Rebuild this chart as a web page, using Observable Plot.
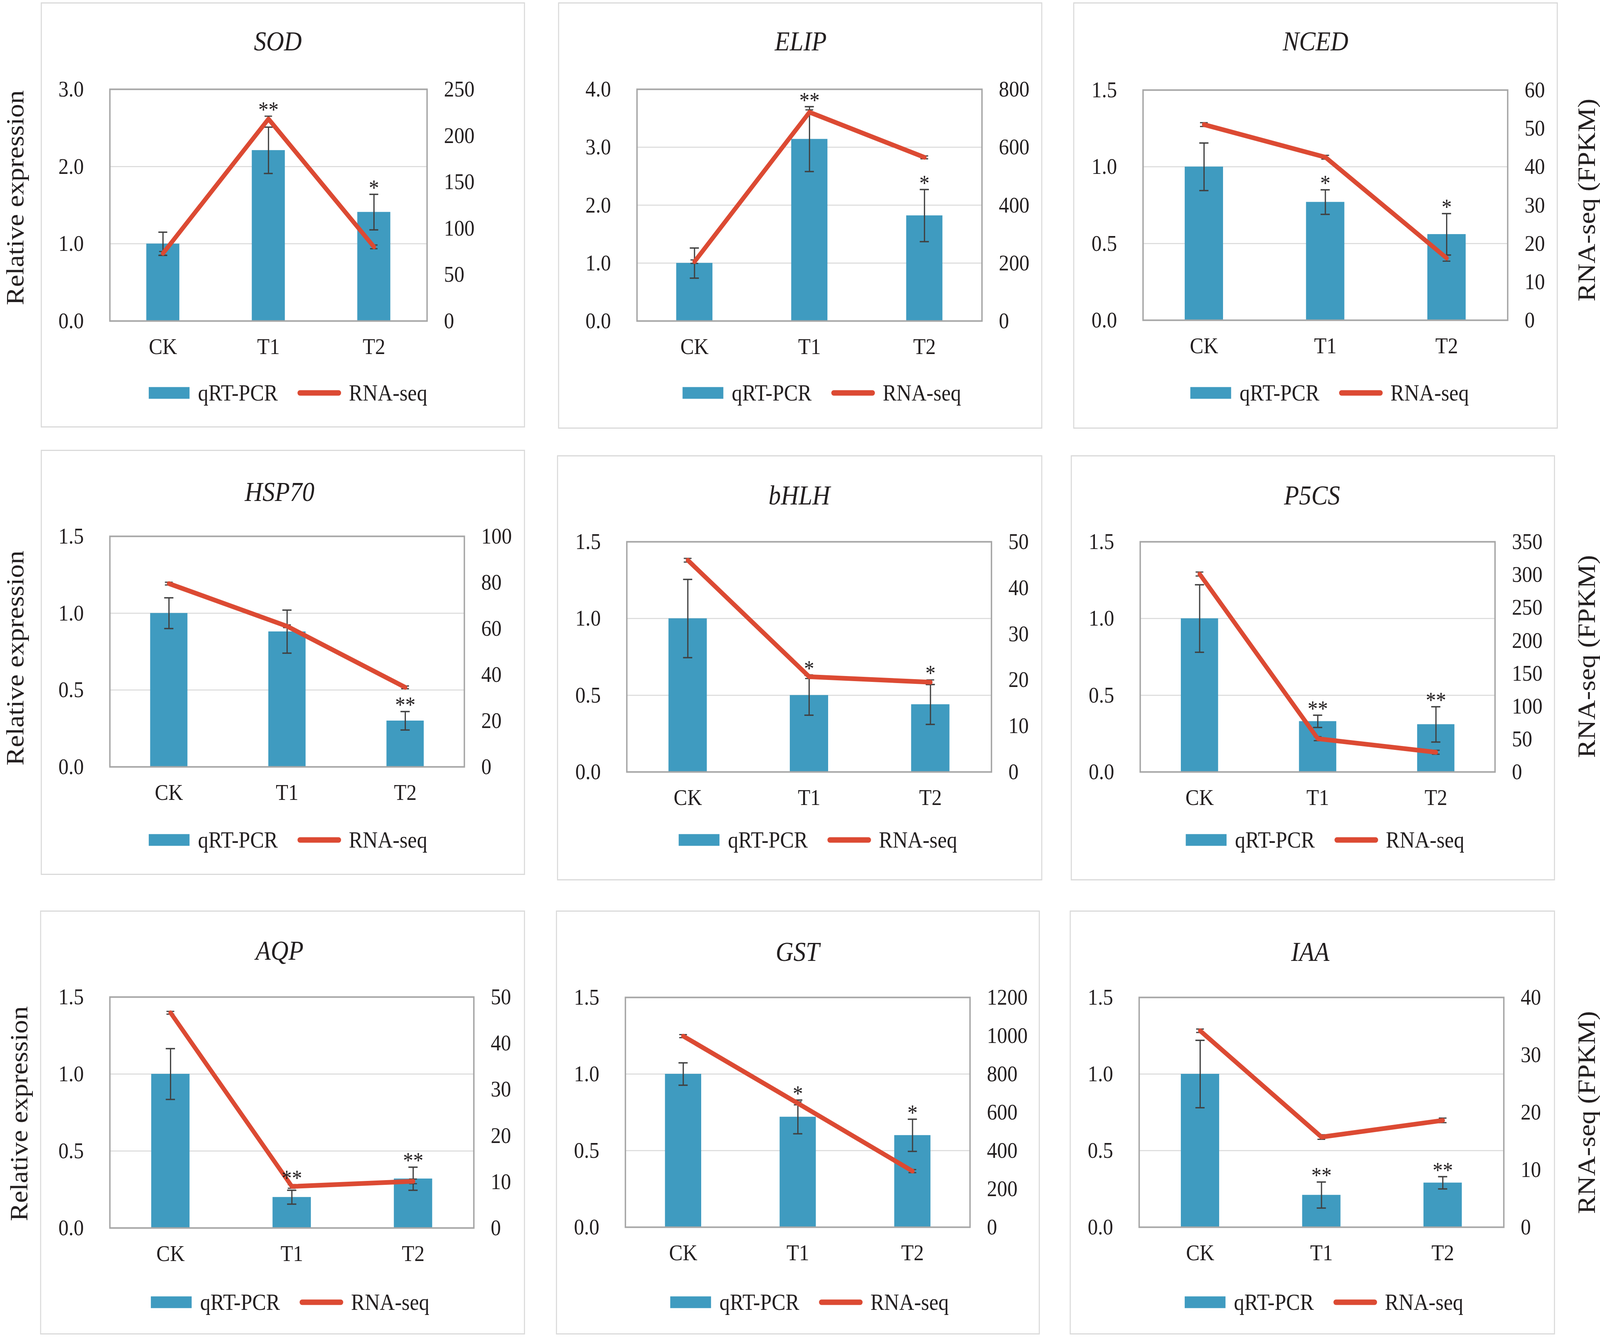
<!DOCTYPE html>
<html>
<head>
<meta charset="utf-8">
<script src="https://cdn.jsdelivr.net/npm/d3@7"></script>
<script src="https://cdn.jsdelivr.net/npm/@observablehq/plot@0.6"></script>
<style>
  html, body { margin: 0; padding: 0; background: #ffffff; overflow: hidden; }
  #outer { position: relative; width: 100vw; height: 100vh; overflow: hidden; background: #fff; }
  #page { position: absolute; left: 0; top: 0; width: 4550px; height: 3424px; overflow: hidden; background: #fff;
          transform-origin: 0 0;
          font-family: "Liberation Serif", "Times New Roman", serif; color: #231f20; }
  .box { position: absolute; border: 3px solid #dadada; box-sizing: border-box; }
  .title { position: absolute; font-style: italic; font-size: 70px; line-height: 1; white-space: nowrap;
           transform: translate(-50%, -50%); }
  .ylab { position: absolute; font-size: 70px; line-height: 1; white-space: nowrap;
          transform: translate(-50%, -50%) rotate(-90deg); }
  .legend { position: absolute; display: flex; align-items: center; font-size: 59px; line-height: 1;
            white-space: nowrap; transform: translateY(-50%); }
  .sw-bar { width: 116px; height: 30px; background: #3f9bc0; margin-right: 24px; }
  .sw-line { width: 124px; height: 14px; border-radius: 7px; background: #dc4a33; margin-left: 56px; margin-right: 22px; }
  .plotwrap { position: absolute; }
</style>
</head>
<body>
<div id="outer"><div id="page"></div></div>
<script>
// ---------------- data ----------------
const genes = ["SOD", "ELIP", "NCED", "HSP70", "bHLH", "P5CS", "AQP", "GST", "IAA"];
const treatments = ["CK", "T1", "T2"];
const seriesNames = ["qRT-PCR", "RNA-seq"];
const leftAxisTitle = "Relative expression";
const rightAxisTitle = "RNA-seq (FPKM)";

// qRT-PCR relative expression (bars) and their error bars
const qpcr = [
  [1.00, 2.21, 1.41],
  [1.00, 3.14, 1.82],
  [1.00, 0.77, 0.56],
  [1.00, 0.88, 0.30],
  [1.00, 0.50, 0.44],
  [1.00, 0.33, 0.31],
  [1.00, 0.20, 0.32],
  [1.00, 0.72, 0.60],
  [1.00, 0.21, 0.29]
];
const qpcrErr = [
  [0.15, 0.30, 0.23],
  [0.26, 0.56, 0.45],
  [0.155, 0.08, 0.135],
  [0.10, 0.14, 0.06],
  [0.255, 0.13, 0.13],
  [0.22, 0.04, 0.115],
  [0.165, 0.045, 0.075],
  [0.073, 0.11, 0.105],
  [0.22, 0.085, 0.04]
];
// RNA-seq FPKM (line) and their small error bars
const rnaseq = [
  [73, 218, 80],
  [205, 721, 565],
  [51, 42.5, 16.2],
  [79.5, 61, 34.5],
  [46, 20.7, 19.5],
  [301, 50.6, 30],
  [46.6, 9, 10.1],
  [998, 647, 293],
  [34.2, 15.7, 18.6]
];
const rnaseqErr = [
  [2, 3, 2],
  [6, 8, 5],
  [0.5, 0.5, 0.8],
  [0.6, 0.6, 0.6],
  [0.4, 0.4, 0.5],
  [3, 3, 3],
  [0.3, 0.4, 0.5],
  [8, 8, 8],
  [0.3, 0.4, 0.4]
];
const significance = [
  ["", "**", "*"],
  ["", "**", "*"],
  ["", "*", "*"],
  ["", "", "**"],
  ["", "*", "*"],
  ["", "**", "**"],
  ["", "**", "**"],
  ["", "*", "*"],
  ["", "**", "**"]
];
// axis extents / tick steps
const leftMax  = [3.0, 4.0, 1.5, 1.5, 1.5, 1.5, 1.5, 1.5, 1.5];
const leftStep = [1.0, 1.0, 0.5, 0.5, 0.5, 0.5, 0.5, 0.5, 0.5];
const rightMax  = [250, 800, 60, 100, 50, 350, 50, 1200, 40];
const rightStep = [50, 200, 10, 20, 10, 50, 10, 200, 10];

// ---------------- layout (pixels of the 4550x3424 picture) ----------------
const layout = [
  {box:[116,6,1493,1094],    plot:[312,228,1214,821],    title:[790,106],   leg:[423,1005]},
  {box:[1587,6,2964,1097],   plot:[1811,228,2792,821],   title:[2277,106],  leg:[1941,1005]},
  {box:[3052,6,4430,1097],   plot:[3250,230,4287,819],   title:[3741,106],  leg:[3385,1005]},
  {box:[116,1151,1493,2239], plot:[312,1372,1320,1962],  title:[795,1259],  leg:[423,2149]},
  {box:[1584,1165,2964,2253],plot:[1782,1386,2819,1975], title:[2273,1268], leg:[1930,2149]},
  {box:[3045,1165,4422,2253],plot:[3242,1386,4251,1975], title:[3731,1268], leg:[3372,2149]},
  {box:[114,2330,1493,3415], plot:[312,2551,1347,3142],  title:[795,2433],  leg:[429,3332]},
  {box:[1581,2330,2957,3415],plot:[1778,2552,2758,3140], title:[2268,2436], leg:[1906,3332]},
  {box:[3042,2330,4422,3415],plot:[3239,2552,4276,3140], title:[3726,2436], leg:[3369,3332]}
];
const leftLabels = [[44, 506], [44, 1684], [55, 2850]];
const rightLabels = [[4513, 512], [4513, 1680], [4513, 2847]];

const BAR = "#3f9bc0", LINE = "#dc4a33", ERR = "#404040", GRID = "#d9d9d9", FRAME = "#a6a6a6";
const FONT = "Liberation Serif, Times New Roman, serif";
const M = {left: 200, right: 200, top: 50, bottom: 110};
const padInner = 0.685, padOuter = padInner / 2;

const page = document.getElementById("page");
function fit() {
  const sx = window.innerWidth / 4550, sy = window.innerHeight / 3424;
  page.style.transform = `scale(${sx}, ${sy})`;
}
fit();
window.addEventListener("resize", fit);

function el(cls, css, text) {
  const d = document.createElement("div");
  d.className = cls;
  Object.assign(d.style, css);
  if (text != null) d.textContent = text;
  page.appendChild(d);
  return d;
}

genes.forEach((gene, i) => {
  const L = layout[i];
  el("box", {left: L.box[0] + "px", top: L.box[1] + "px",
             width: (L.box[2] - L.box[0]) + "px", height: (L.box[3] - L.box[1]) + "px"});
  el("title", {left: L.title[0] + "px", top: L.title[1] + "px"}, gene);

  const rows = treatments.map((t, j) => ({
    treatment: t, qpcr: qpcr[i][j], err: qpcrErr[i][j],
    rna: rnaseq[i][j], rnaErr: rnaseqErr[i][j], sig: significance[i][j]
  }));
  const k = leftMax[i] / rightMax[i];
  const leftTicks = d3.range(0, leftMax[i] + 1e-9, leftStep[i]);
  const rightTicks = d3.range(0, rightMax[i] + 1e-9, rightStep[i]);
  const innerTicks = leftTicks.filter(t => t > 0 && t < leftMax[i] - 1e-9);

  const plotW = L.plot[2] - L.plot[0];
  const plotH = L.plot[3] - L.plot[1];
  const bw = plotW / 3 * (1 - padInner);
  const capInset = Math.max(0, (bw - 26) / 2);
  const rnaCapInset = Math.max(0, (bw - 22) / 2);

  // anchor for significance stars: above qRT-PCR error bar, or line point when it sits just above it
  const starY = d => {
    const top = d.qpcr + d.err;
    const r = (d.rna + d.rnaErr) * k;
    return (r > top && r - top < 0.06 * leftMax[i]) ? r : top;
  };

  const chart = Plot.plot({
    width: plotW + M.left + M.right,
    height: plotH + M.top + M.bottom,
    marginLeft: M.left, marginRight: M.right, marginTop: M.top, marginBottom: M.bottom,
    style: {fontFamily: FONT, fontSize: "58px", color: "#231f20", background: "transparent", overflow: "visible"},
    x: {type: "band", domain: treatments, paddingInner: padInner, paddingOuter: padOuter},
    y: {domain: [0, leftMax[i]]},
    marks: [
      Plot.ruleY(innerTicks, {stroke: GRID, strokeWidth: 2.5}),
      Plot.barY(rows, {x: "treatment", y: "qpcr", fill: BAR}),
      Plot.ruleX(rows, {x: "treatment", y1: d => d.qpcr - d.err, y2: d => d.qpcr + d.err, stroke: ERR, strokeWidth: 3.5}),
      Plot.tickY(rows, {x: "treatment", y: d => d.qpcr + d.err, stroke: ERR, strokeWidth: 3.5, insetLeft: capInset, insetRight: capInset}),
      Plot.tickY(rows, {x: "treatment", y: d => d.qpcr - d.err, stroke: ERR, strokeWidth: 3.5, insetLeft: capInset, insetRight: capInset}),
      Plot.ruleX(rows, {x: "treatment", y1: d => (d.rna - d.rnaErr) * k, y2: d => (d.rna + d.rnaErr) * k, stroke: ERR, strokeWidth: 3}),
      Plot.tickY(rows, {x: "treatment", y: d => (d.rna + d.rnaErr) * k, stroke: ERR, strokeWidth: 3, insetLeft: rnaCapInset, insetRight: rnaCapInset}),
      Plot.tickY(rows, {x: "treatment", y: d => (d.rna - d.rnaErr) * k, stroke: ERR, strokeWidth: 3, insetLeft: rnaCapInset, insetRight: rnaCapInset}),
      Plot.lineY(rows, {x: "treatment", y: d => d.rna * k, stroke: LINE, strokeWidth: 12, strokeLinejoin: "round", strokeLinecap: "round"}),
      Plot.frame({stroke: FRAME, strokeWidth: 4}),
      Plot.text(rows.filter(d => d.sig), {x: "treatment", y: starY, text: "sig", fontSize: 58, fill: "#231f20",
                                           lineAnchor: "middle", dy: -16}),
      Plot.axisY(leftTicks, {anchor: "left", tickSize: 0, tickPadding: 74, tickFormat: d3.format(".1f"), label: null}),
      Plot.axisY(rightTicks.map(t => t * k), {anchor: "right", tickSize: 0, tickPadding: 48,
                 tickFormat: d => d3.format("d")(Math.round(d / k)), label: null}),
      Plot.axisX({tickSize: 0, tickPadding: 43, label: null})
    ]
  });
  const wrap = el("plotwrap", {left: (L.plot[0] - M.left) + "px", top: (L.plot[1] - M.top) + "px"});
  wrap.appendChild(chart);

  // legend
  const leg = el("legend", {left: L.leg[0] + "px", top: L.leg[1] + "px"});
  const s1 = document.createElement("div"); s1.className = "sw-bar"; leg.appendChild(s1);
  const t1 = document.createElement("span"); t1.textContent = seriesNames[0]; leg.appendChild(t1);
  const s2 = document.createElement("div"); s2.className = "sw-line"; leg.appendChild(s2);
  const t2 = document.createElement("span"); t2.textContent = seriesNames[1]; leg.appendChild(t2);
});

leftLabels.forEach(([x, y]) => el("ylab", {left: x + "px", top: y + "px"}, leftAxisTitle));
rightLabels.forEach(([x, y]) => el("ylab", {left: x + "px", top: y + "px"}, rightAxisTitle));
</script>
</body>
</html>
